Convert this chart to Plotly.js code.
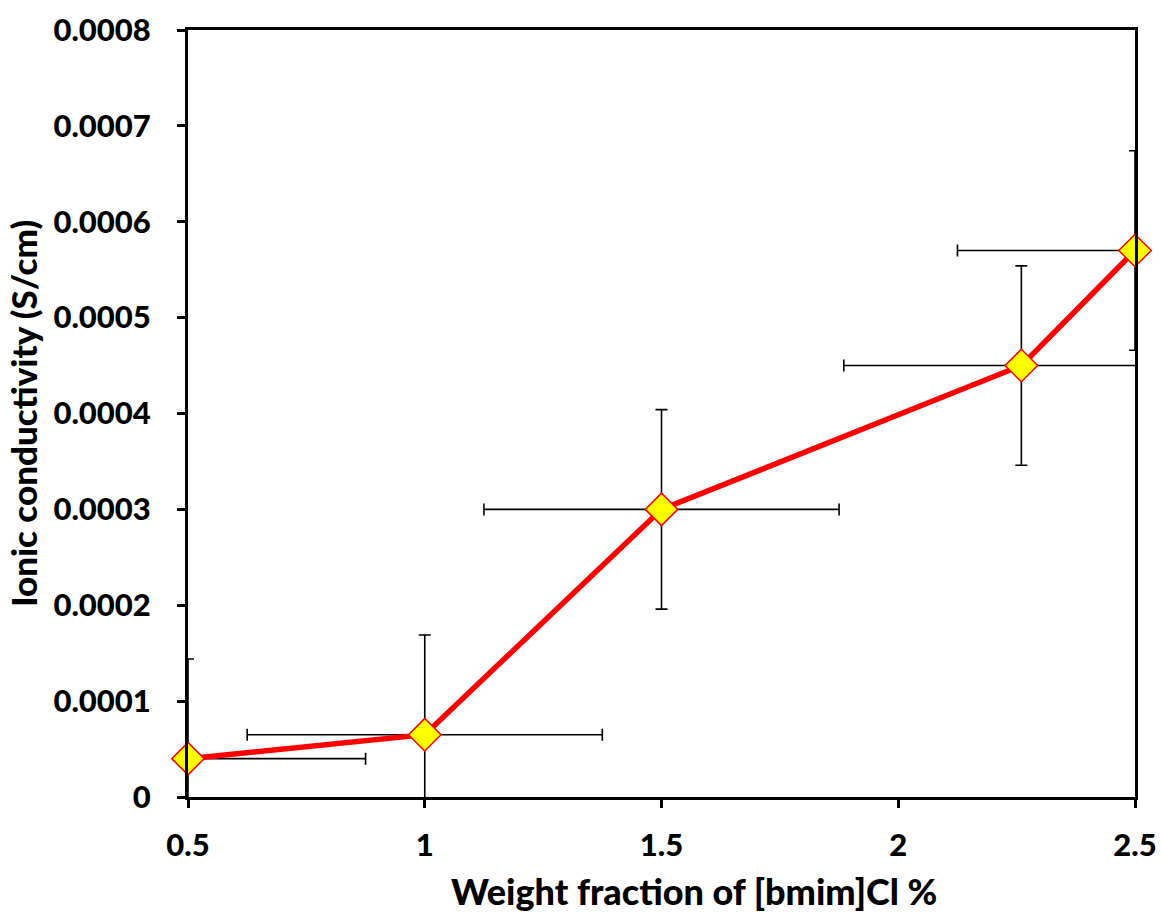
<!DOCTYPE html>
<html>
<head>
<meta charset="utf-8">
<script src="https://cdn.plot.ly/plotly-3.0.1.min.js"></script>
<style>html,body{margin:0;padding:0;background:#fff;}#chart{width:1161px;height:914px;}</style>
</head>
<body>
<div id="chart"></div>
<script>
const weightFraction = [0.5, 1, 1.5, 2.26, 2.5];
const conductivity = [0.00004, 0.000065, 0.0003, 0.00045, 0.00057];
const xError = [0.375, 0.375, 0.375, 0.375, 0.375];
const yError = [0.000104, 0.000104, 0.000104, 0.000104, 0.000104];
const xTickVals = [0.5, 1, 1.5, 2, 2.5];
const xTickText = ['0.5', '1', '1.5', '2', '2.5'];
const yTickVals = [0, 0.0001, 0.0002, 0.0003, 0.0004, 0.0005, 0.0006, 0.0007, 0.0008];
const yTickText = ['0', '0.0001', '0.0002', '0.0003', '0.0004', '0.0005', '0.0006', '0.0007', '0.0008'];

const FONT = 'Lato, "Open Sans", sans-serif';

const traces = [
  {
    x: weightFraction, y: conductivity, type: 'scatter', mode: 'lines',
    line: {color: '#ff0000', width: 5.5},
    error_x: {type: 'data', array: xError, visible: true, color: '#000', thickness: 1.6, width: 6},
    error_y: {type: 'data', array: yError, visible: true, color: '#000', thickness: 1.6, width: 6},
    cliponaxis: true, showlegend: false, hoverinfo: 'skip'
  },
  {
    x: weightFraction, y: conductivity, type: 'scatter', mode: 'markers',
    marker: {symbol: 'diamond', size: 25, color: '#ffff00', line: {color: '#ff0000', width: 1.5}},
    cliponaxis: false, showlegend: false
  }
];

const layout = {
  width: 1161, height: 914,
  margin: {l: 188, r: 26, t: 30, b: 117},
  paper_bgcolor: '#fff', plot_bgcolor: '#fff',
  font: {family: FONT, color: '#000'},
  xaxis: {
    range: [0.5, 2.5], tickvals: xTickVals, ticktext: xTickText,
    showgrid: false, zeroline: false,
    showline: true, linecolor: '#000', linewidth: 3, mirror: true,
    ticks: 'outside', ticklen: 8, tickwidth: 3, tickcolor: '#000',
    tickfont: {family: FONT, size: 31, color: '#000', weight: 900},
    ticklabelstandoff: 11
  },
  yaxis: {
    range: [0, 0.0008], tickvals: yTickVals, ticktext: yTickText,
    showgrid: false, zeroline: false,
    showline: true, linecolor: '#000', linewidth: 3, mirror: true,
    ticks: 'outside', ticklen: 8, tickwidth: 3, tickcolor: '#000',
    tickfont: {family: FONT, size: 31, color: '#000', weight: 900},
    ticklabelstandoff: 20,
    title: {text: 'Ionic conductivity (S/cm)', font: {family: FONT, size: 35, color: '#000', weight: 900}, standoff: 6}
  },
  annotations: [{
    text: 'Weight fraction of [bmim]Cl %',
    xref: 'paper', yref: 'paper', x: 0.534, y: -0.123,
    xanchor: 'center', yanchor: 'middle', showarrow: false,
    font: {family: FONT, size: 36, color: '#000', weight: 900}
  }]
};

Plotly.newPlot('chart', traces, layout, {displayModeBar: false, staticPlot: true});
</script>
</body>
</html>
